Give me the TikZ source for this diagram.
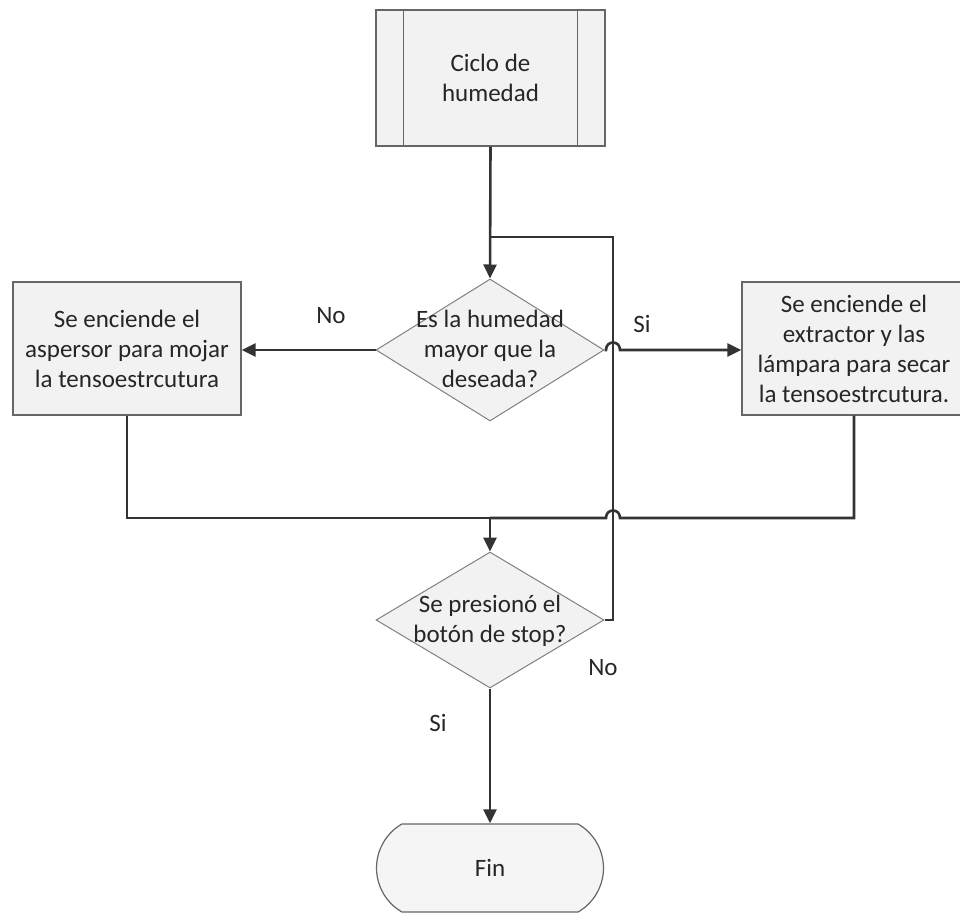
\documentclass[tikz,border=0pt]{standalone}
\usepackage{fontspec}
\setmainfont{Carlito}
\usetikzlibrary{arrows.meta,calc,shapes.geometric,shapes.misc}
\begin{document}
\begin{tikzpicture}[x=0.5pt,y=-0.5pt,
  every node/.style={font=\fontsize{12.5}{15}\selectfont, text=black!85},
  box/.style={draw=black!60, line width=0.6pt, fill=black!5, rectangle, inner sep=0pt, align=center},
  dec/.style={draw=black!50, line width=0.5pt, fill=black!5, diamond, inner sep=0pt},
  term/.style={draw=black!60, line width=0.6pt, fill=black!4, rounded rectangle,
    rounded rectangle arc length=120, inner sep=0pt},
  txt/.style={align=center, inner sep=0pt},
  conn/.style={draw=black!80, line width=1.3pt},
  arr/.style={conn, -{Triangle[length=7pt,width=6.5pt]}}]
\useasboundingbox (0,0) rectangle (960,915);
\clip (0,0) rectangle (960,915);

% start: predefined process
\node[box, minimum width=114.5pt, minimum height=68pt] (top) at (490.5,78) {Ciclo de\\humedad};
\draw[draw=black!60, line width=0.6pt] ($(top.north west)+(28,0)$) -- ($(top.south west)+(28,0)$);
\draw[draw=black!60, line width=0.6pt] ($(top.north east)+(-28,0)$) -- ($(top.south east)+(-28,0)$);

% decisions
\node[dec, minimum width=114pt, minimum height=71pt] (d1) at (490,350) {};
\node[txt] (d1t) at (490,349) {Es la humedad\\mayor que la\\deseada?};
\node[dec, minimum width=114pt, minimum height=68pt] (d2) at (490,620) {};
\node[txt] (d2t) at (490,621) {Se presionó el\\botón de stop?};

% actions
\node[box, minimum width=114pt, minimum height=66.5pt] (lbox) at (127,348.5)
  {Se enciende el\\aspersor para mojar\\la tensoestrcutura};
\node[box, minimum width=112pt, minimum height=66.5pt] (rbox) at (854,348.5)
  {Se enciende el\\extractor y las\\lámpara para secar\\la tensoestrcutura.};

% end
\node[term, minimum width=113.5pt, minimum height=44pt] (fin) at (490,868) {Fin};

% labels
\node (lno1) at (331,316) {No};
\node (lsi1) at (642,324) {Si};
\node (lno2) at (603,668) {No};
\node (lsi2) at (438,723) {Si};

% connectors
\coordinate (lp) at (613,237);
\coordinate (mg) at (490,518);
\coordinate (h1a) at ($(d1.east -| lp)+(-7,0)$);
\coordinate (h1b) at ($(d1.east -| lp)+(7,0)$);
\coordinate (h2a) at ($(mg -| lp)+(-7,0)$);
\coordinate (h2b) at ($(mg -| lp)+(7,0)$);

\draw[arr] (top.south) -- (d1.north);
\draw[conn] (d2.east) -| (lp) -- (lp -| top.south);
\draw[arr] (d1.west) -- (d1.west -| lbox.east);
\draw[arr] (d1.east) -- (h1a) .. controls ($(h1a)+(0,-10)$) and ($(h1b)+(0,-10)$) .. (h1b) -- (d1.east -| rbox.west);
\draw[conn] (lbox.south) |- (mg);
\draw[conn] (rbox.south) -- (rbox.south |- mg) -- (h2b) .. controls ($(h2b)+(0,-10)$) and ($(h2a)+(0,-10)$) .. (h2a) -- (mg);
\draw[arr] (mg) -- (d2.north);
\draw[arr] (d2.south) -- (fin.north);
\end{tikzpicture}
\end{document}
